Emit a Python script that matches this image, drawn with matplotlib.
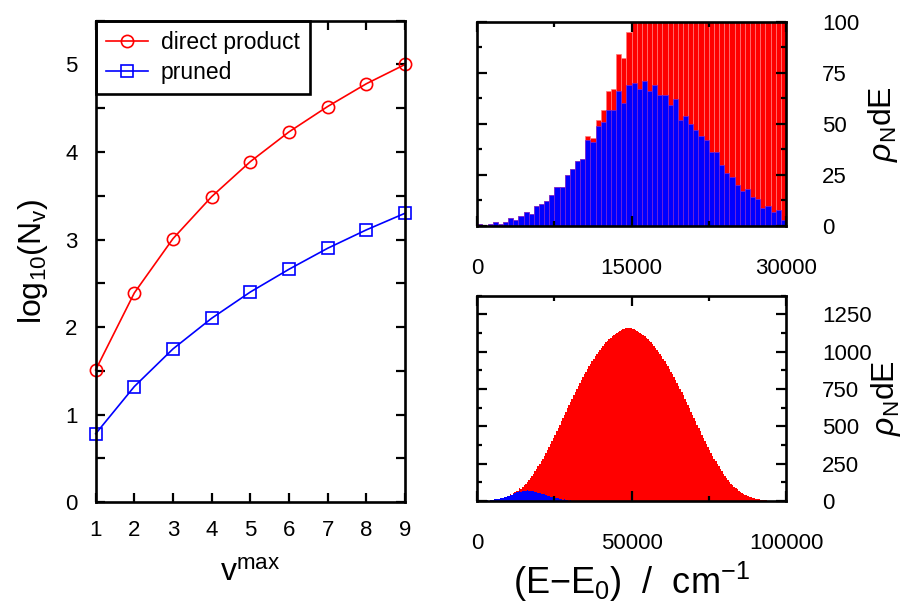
import matplotlib
matplotlib.use("Agg")
import matplotlib.pyplot as plt
import numpy as np
from matplotlib.ticker import MultipleLocator

plt.rcParams['font.family'] = ['Liberation Sans', 'DejaVu Sans']
plt.rcParams['mathtext.fontset'] = 'custom'
plt.rcParams['mathtext.rm'] = 'Liberation Sans'
plt.rcParams['mathtext.it'] = 'Liberation Sans:italic'
plt.rcParams['mathtext.bf'] = 'Liberation Sans:bold'

# ---- basis size vs. maximum quantum number ----
vmax = [1, 2, 3, 4, 5, 6, 7, 8, 9]
log_direct = [1.51, 2.39, 3.01, 3.49, 3.89, 4.23, 4.52, 4.78, 5.00]
log_pruned = [0.78, 1.32, 1.75, 2.10, 2.40, 2.66, 2.90, 3.11, 3.30]

# ---- density of states, 500 cm-1 bins starting at 0 ----
bin_width = 500
rho_direct = [
    1, 0, 1, 2, 1, 2, 4, 3, 5, 7,
    6, 10, 11, 12, 15, 19, 19, 25, 28, 32,
    33, 44, 43, 52, 57, 66, 67, 84, 82, 95,
    106, 117, 129, 142, 155, 169, 184, 199, 215, 231,
    248, 266, 284, 303, 322, 342, 362, 382, 403, 424,
    445, 467, 489, 511, 533, 555, 577, 599, 621, 643,
    665, 686, 707, 728, 749, 769, 789, 809, 829, 848,
    867, 885, 903, 920, 937, 953, 969, 984, 998, 1012,
    1025, 1038, 1050, 1062, 1073, 1083, 1093, 1102, 1111, 1119,
    1126, 1133, 1139, 1144, 1149, 1153, 1156, 1158, 1158, 1156,
    1153, 1149, 1144, 1139, 1133, 1126, 1119, 1111, 1102, 1093,
    1083, 1073, 1062, 1050, 1038, 1025, 1012, 998, 984, 969,
    953, 937, 920, 903, 885, 867, 848, 829, 809, 789,
    769, 749, 728, 707, 686, 665, 643, 621, 599, 577,
    555, 533, 511, 489, 467, 445, 424, 403, 382, 362,
    342, 322, 303, 284, 266, 248, 231, 215, 199, 184,
    169, 155, 142, 129, 117, 106, 94, 85, 77, 69,
    62, 55, 49, 43, 38, 33, 29, 25, 21, 18,
    15, 13, 11, 9, 7, 6, 5, 4, 3, 2,
    2, 1, 1, 1, 0, 1, 0, 0, 0, 0,
]
rho_pruned = [
    1, 0, 1, 2, 1, 2, 4, 3, 5, 7,
    6, 10, 11, 12, 15, 19, 19, 25, 28, 32,
    33, 42, 41, 49, 51, 57, 57, 66, 60, 69,
    70, 67, 71, 66, 69, 64, 64, 59, 62, 52,
    54, 50, 47, 44, 42, 36, 36, 30, 26, 24,
    20, 17, 18, 14, 13, 9, 10, 7, 8, 3,
    4, 3, 3, 2, 2, 1, 1,
]

rho_direct = np.array(rho_direct, dtype=float)
rho_pruned_full = np.zeros_like(rho_direct)
rho_pruned_full[:len(rho_pruned)] = rho_pruned
edges = np.arange(len(rho_direct) + 1) * bin_width

RED = '#ff0000'
BLUE = '#0000ff'
SPINE_W = 1.9
TICK_W = 1.6
TICK_FS = 16

fig = plt.figure(figsize=(9.06, 6.12), dpi=100)

ax1 = fig.add_axes([0.1056, 0.1797, 0.3414, 0.7864])
ax2 = fig.add_axes([0.5268, 0.6307, 0.3407, 0.3338])
ax3 = fig.add_axes([0.5268, 0.1814, 0.3407, 0.3355])

for ax in (ax1, ax2, ax3):
    for sp in ax.spines.values():
        sp.set_linewidth(SPINE_W)
        sp.set_zorder(10)

# ---- left panel ----
ax1.plot(vmax, log_direct, '-o', color=RED, lw=1.2, ms=8.8, mfc='none',
         mew=1.2, clip_on=False, zorder=5, label='direct product')
ax1.plot(vmax, log_pruned, '-s', color=BLUE, lw=1.2, ms=8.2, mfc='none',
         mew=1.2, clip_on=False, zorder=5, label='pruned')
ax1.set_xlim(1, 9)
ax1.set_ylim(0, 5.5)
ax1.xaxis.set_major_locator(MultipleLocator(1))
ax1.yaxis.set_major_locator(MultipleLocator(1))
ax1.yaxis.set_minor_locator(MultipleLocator(0.5))
ax1.tick_params(which='both', direction='in', top=True, right=True,
                length=6.8, width=TICK_W, labelsize=TICK_FS)
ax1.tick_params(axis='x', pad=13)
ax1.tick_params(axis='y', pad=13)
ax1.set_ylabel(r'log$_{10}$(N$_\mathrm{v}$)', fontsize=23, labelpad=11)
ax1.set_xlabel(r'v$^\mathrm{max}$', fontsize=23, labelpad=12)
leg = ax1.legend(loc='upper left', bbox_to_anchor=(0, 1), borderaxespad=0,
                 fancybox=False, framealpha=1, edgecolor='black',
                 fontsize=16.5, handlelength=1.85, handletextpad=0.55,
                 labelspacing=0.3, borderpad=0.45)
leg.get_frame().set_linewidth(SPINE_W)

# ---- top right: low-energy part ----
n_top = 60
ax2.bar(edges[:n_top], rho_direct[:n_top], width=bin_width, align='edge',
        color=RED, edgecolor='#ff7a7a', linewidth=0.5)
ax2.bar(edges[:n_top], rho_pruned_full[:n_top], width=bin_width, align='edge',
        color=BLUE, edgecolor='#7a2ad8', linewidth=0.5)
ax2.set_xlim(0, 30000)
ax2.set_ylim(0, 100)
ax2.xaxis.set_major_locator(MultipleLocator(15000))
ax2.xaxis.set_minor_locator(MultipleLocator(7500))
ax2.yaxis.set_major_locator(MultipleLocator(25))
ax2.yaxis.set_minor_locator(MultipleLocator(12.5))

# ---- bottom right: full range ----
ax3.stairs(rho_direct, edges, fill=True, color=RED, lw=0)
ax3.stairs(rho_pruned_full, edges, fill=True, color=BLUE, lw=0)
ax3.set_xlim(0, 100000)
ax3.set_ylim(0, 1375)
ax3.xaxis.set_major_locator(MultipleLocator(50000))
ax3.xaxis.set_minor_locator(MultipleLocator(25000))
ax3.yaxis.set_major_locator(MultipleLocator(250))
ax3.yaxis.set_minor_locator(MultipleLocator(125))

for ax, lp in ((ax2, 5), (ax3, -2)):
    ax.tick_params(which='both', direction='in', top=True, right=True,
                   left=True, bottom=True, labelleft=False, labelright=True,
                   width=TICK_W, labelsize=TICK_FS)
    ax.tick_params(which='major', length=7.2)
    ax.tick_params(which='minor', length=3.6)
    ax.tick_params(axis='x', pad=23)
    ax.tick_params(axis='y', pad=26)
    ax.yaxis.set_label_position('right')
    ax.set_ylabel(r'$\rho_\mathrm{N}$dE', fontsize=23, labelpad=lp)

ax3.set_xlabel(r'(E$-$E$_0$)  /  cm$^{-1}$', fontsize=26, labelpad=4)

fig.savefig('out.png', dpi=100)
